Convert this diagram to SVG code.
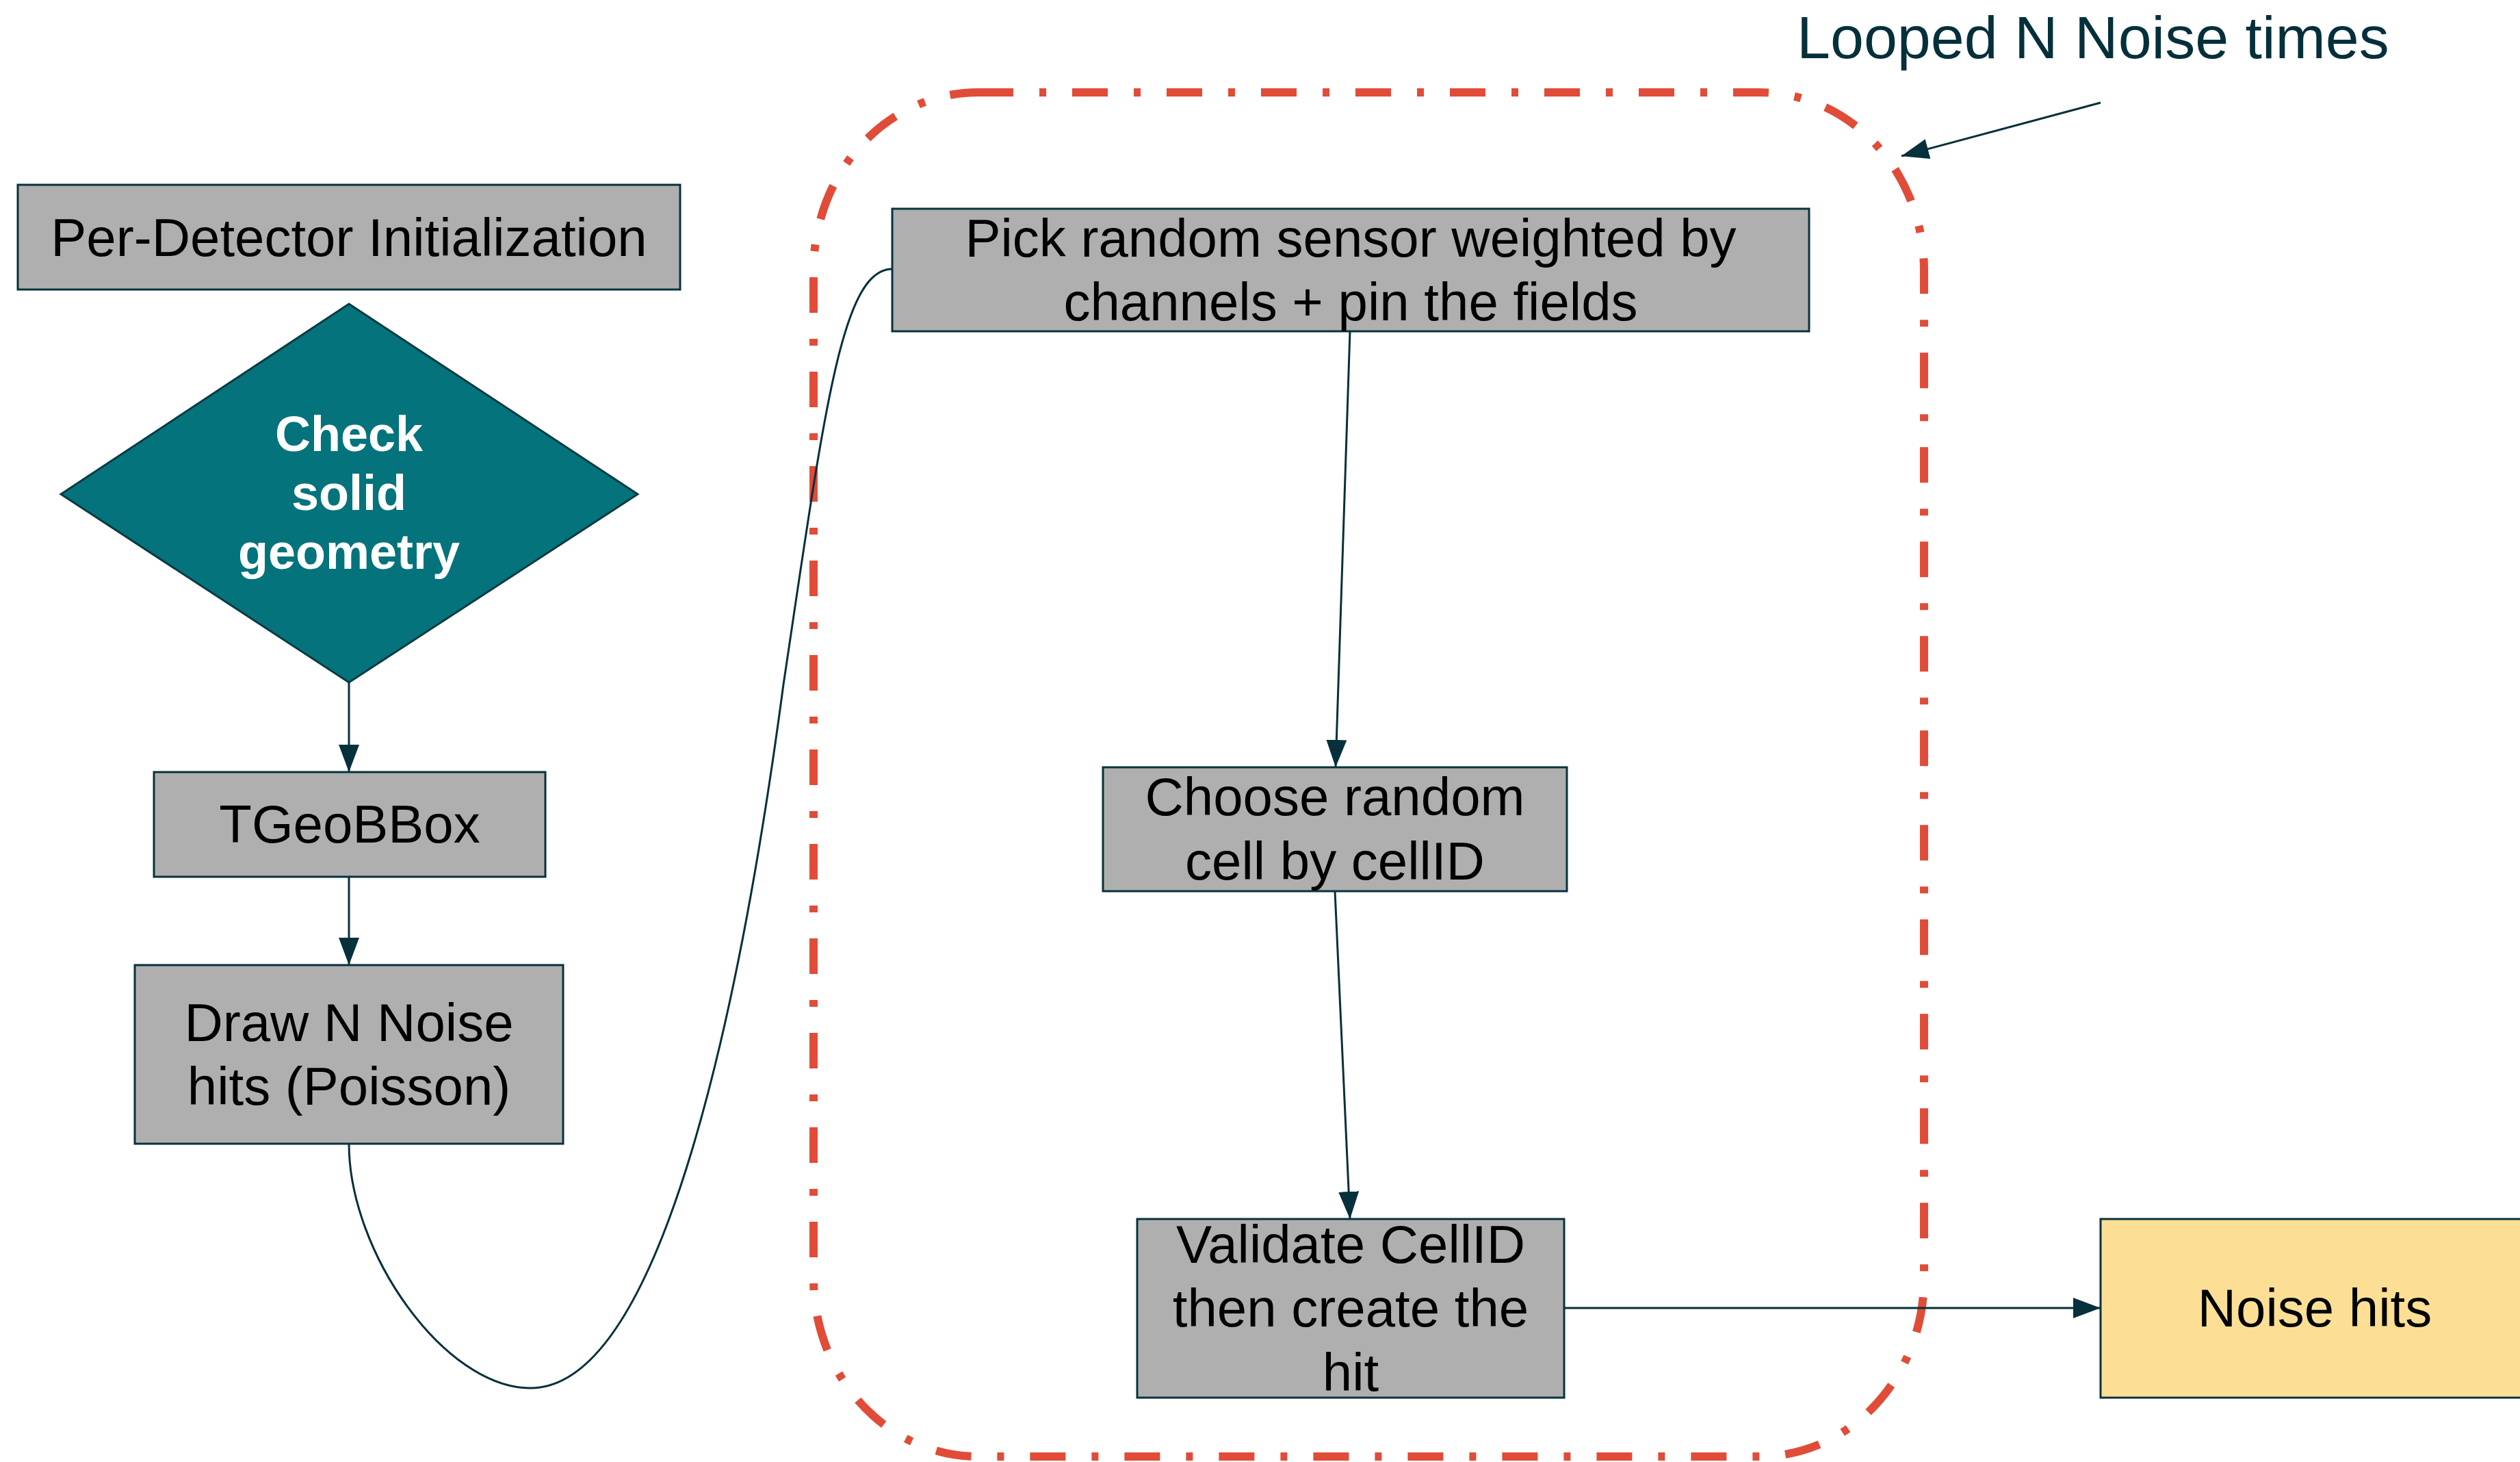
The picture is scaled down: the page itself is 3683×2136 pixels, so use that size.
<svg xmlns="http://www.w3.org/2000/svg" width="3683" height="2136" viewBox="0 0 3683 2136">
  <style>
    .box { fill: #AFAFAF; stroke: #08323D; stroke-width: 3; }
    .out { fill: #FCDF95; stroke: #08323D; stroke-width: 3; }
    .dec { fill: #04737C; stroke: #0A3A42; stroke-width: 3; }
    .lbl { font-family: "Liberation Sans", Arial, sans-serif; font-size: 78px; fill: #000000; text-anchor: middle; }
    .dlbl { font-family: "Liberation Sans", Arial, sans-serif; font-size: 72px; font-weight: bold; fill: #FFFFFF; text-anchor: middle; }
    .note { font-family: "Liberation Sans", Arial, sans-serif; font-size: 88px; fill: #05303B; }
    .edge { fill: none; stroke: #06303C; stroke-width: 3; }
    .loop { fill: none; stroke: #E04C38; stroke-width: 12; stroke-dasharray: 52 38 10 38; }
  </style>
  <defs>
    <marker id="arrow" markerUnits="userSpaceOnUse" markerWidth="40" markerHeight="30" refX="40" refY="15" orient="auto">
      <path d="M0,0 L40,15 L0,30 Z" fill="#06303C"/>
    </marker>
  </defs>

  <rect width="3683" height="2136" fill="#FFFFFF"/>

  <!-- loop boundary -->
  <g id="loop-region">
    <rect class="loop" x="1189" y="135" width="1623" height="1993" rx="240" ry="260"/>
  </g>

  <!-- connectors -->
  <g id="connectors">
    <line class="edge" x1="510" y1="997" x2="510" y2="1128" marker-end="url(#arrow)"/>
    <line class="edge" x1="510" y1="1281" x2="510" y2="1410" marker-end="url(#arrow)"/>
    <path class="edge" d="M510,1671 C510,1830 650,2028 775,2028 C970,2028 1085,1450 1145,1000 C1205,600 1230,393 1304,393"/>
    <line class="edge" x1="1973" y1="484" x2="1952" y2="1121" marker-end="url(#arrow)"/>
    <line class="edge" x1="1951" y1="1302" x2="1973" y2="1781" marker-end="url(#arrow)"/>
    <line class="edge" x1="2286" y1="1911" x2="3070" y2="1911" marker-end="url(#arrow)"/>
    <line class="edge" x1="3070" y1="150" x2="2779" y2="228" marker-end="url(#arrow)"/>
  </g>

  <g id="per-detector-init">
    <rect class="box" x="26" y="270" width="968" height="153"/>
    <text class="lbl" x="510" y="374">Per-Detector Initialization</text>
  </g>

  <g id="check-geometry">
    <polygon class="dec" points="510,444 932,722 510,997 89,722"/>
    <text class="dlbl" x="510" y="659">Check</text>
    <text class="dlbl" x="510" y="745">solid</text>
    <text class="dlbl" x="510" y="831">geometry</text>
  </g>

  <g id="tgeobbox">
    <rect class="box" x="225" y="1128" width="572" height="153"/>
    <text class="lbl" x="511" y="1231">TGeoBBox</text>
  </g>

  <g id="draw-noise">
    <rect class="box" x="197" y="1410" width="626" height="261"/>
    <text class="lbl" x="510" y="1521">Draw N Noise</text>
    <text class="lbl" x="510" y="1614">hits (Poisson)</text>
  </g>

  <g id="pick-sensor">
    <rect class="box" x="1304" y="305" width="1340" height="179"/>
    <text class="lbl" x="1974" y="375">Pick random sensor weighted by</text>
    <text class="lbl" x="1974" y="468">channels + pin the fields</text>
  </g>

  <g id="choose-cell">
    <rect class="box" x="1612" y="1121" width="678" height="181"/>
    <text class="lbl" x="1951" y="1191">Choose random</text>
    <text class="lbl" x="1951" y="1285">cell by cellID</text>
  </g>

  <g id="validate-cell">
    <rect class="box" x="1662" y="1781" width="624" height="261"/>
    <text class="lbl" x="1974" y="1845">Validate CellID</text>
    <text class="lbl" x="1974" y="1938">then create the</text>
    <text class="lbl" x="1974" y="2032">hit</text>
  </g>

  <g id="noise-hits">
    <rect class="out" x="3070" y="1781" width="626" height="261"/>
    <text class="lbl" x="3383" y="1938">Noise hits</text>
  </g>

  <g id="loop-note">
    <text class="note" x="2626" y="85">Looped N Noise times</text>
  </g>
</svg>
